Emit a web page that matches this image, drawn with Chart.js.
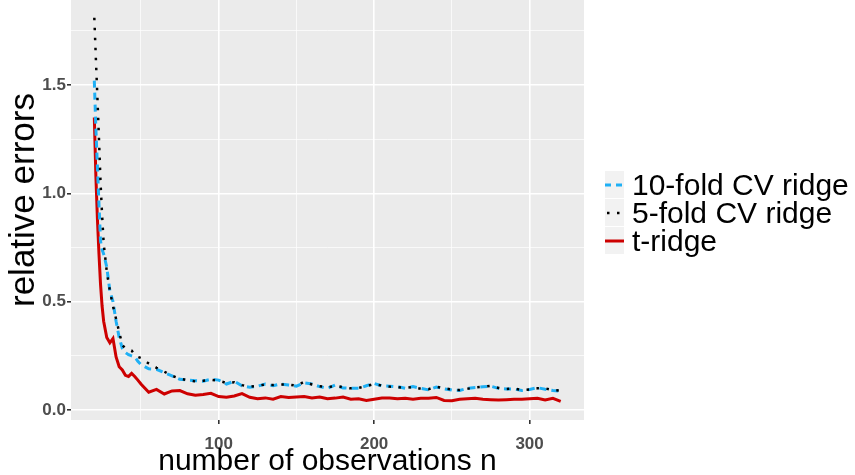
<!DOCTYPE html>
<html lang="en">
<head>
  <meta charset="UTF-8">
  <title>relative errors vs n</title>
  <script src="https://cdn.jsdelivr.net/npm/chart.js"></script>
  <style>
    body {
      margin: 0;
      background: #fff;
      font-family: "Liberation Sans", Arial, sans-serif;
    }
    #wrap {
      position: relative;
      width: 855px;
      height: 475px;
    }
    canvas { position: absolute; left: 0; top: 0; }
    .title {
      position: absolute;
      color: #000;
      white-space: nowrap;
      line-height: 1;
    }
    #xtitle { left: 0; width: 655px; text-align: center; top: 445px; font-size: 30px; }
    #ytitle {
      left: 4px; top: 200px; font-size: 35px;
      transform-origin: 0 0;
      transform: rotate(-90deg) translate(-50%, 0);
    }
    .key {
      position: absolute;
      left: 605px;
      width: 19px;
      height: 27px;
      background: #f2f2f2;
    }
    .lab {
      position: absolute;
      left: 632px;
      font-size: 30px;
      line-height: 1;
      color: #000;
      white-space: nowrap;
    }
  </style>
</head>
<body>
<div id="wrap">
  <canvas id="chart" width="855" height="475"></canvas>
  <div class="title" id="xtitle">number of observations n</div>
  <div class="title" id="ytitle">relative errors</div>

  <div class="key" style="top:171px"><svg width="19" height="27"><line x1="0" y1="14" x2="19" y2="14" stroke="#1fb0f5" stroke-width="3" stroke-dasharray="6,5"/></svg></div>
  <div class="key" style="top:199px"><svg width="19" height="27"><line x1="2" y1="14" x2="19" y2="14" stroke="#000" stroke-width="2.5" stroke-dasharray="2.5,7.5"/></svg></div>
  <div class="key" style="top:227px"><svg width="19" height="27"><line x1="0" y1="14" x2="19" y2="14" stroke="#cd0000" stroke-width="3"/></svg></div>
  <div class="lab" style="top:170px">10-fold CV ridge</div>
  <div class="lab" style="top:198px">5-fold CV ridge</div>
  <div class="lab" style="top:226px">t-ridge</div>
</div>

<script>
  // number of observations
  const nObs = [20, 21, 22, 23, 24, 25, 26, 28, 30, 32, 34, 36, 38, 40, 42, 44, 46, 48, 50,
    55, 60, 65, 70, 75, 80, 85, 90, 95, 100, 105, 110, 115, 120, 125, 130, 135, 140, 145, 150,
    155, 160, 165, 170, 175, 180, 185, 190, 195, 200, 205, 210, 215, 220, 225, 230, 235, 240,
    245, 250, 255, 260, 265, 270, 275, 280, 285, 290, 295, 300, 305, 310, 315, 320];

  const tenFold = [1.52, 1.30, 1.12, 0.95, 0.78, 0.74, 0.72, 0.66, 0.55, 0.50, 0.41, 0.335, 0.285, 0.265, 0.255, 0.25, 0.245, 0.225, 0.21,
    0.19, 0.188, 0.172, 0.158, 0.142, 0.138, 0.135, 0.133, 0.142, 0.138, 0.12, 0.133, 0.112, 0.105, 0.11, 0.12, 0.112, 0.12, 0.115, 0.11,
    0.125, 0.12, 0.108, 0.10, 0.115, 0.102, 0.10, 0.10, 0.112, 0.123, 0.111, 0.11, 0.108, 0.10, 0.108, 0.10, 0.093, 0.106,
    0.098, 0.092, 0.09, 0.10, 0.104, 0.107, 0.11, 0.10, 0.097, 0.097, 0.09, 0.095, 0.103, 0.096, 0.09, 0.087];

  const fiveFold = [1.81, 1.62, 1.44, 1.25, 1.05, 0.90, 0.77, 0.64, 0.55, 0.48, 0.42, 0.36, 0.30, 0.285, 0.28, 0.275, 0.255, 0.245, 0.24,
    0.215, 0.195, 0.177, 0.158, 0.145, 0.138, 0.132, 0.135, 0.14, 0.135, 0.125, 0.128, 0.115, 0.108, 0.112, 0.118, 0.115, 0.118, 0.118, 0.112,
    0.13, 0.118, 0.11, 0.105, 0.112, 0.105, 0.10, 0.102, 0.11, 0.12, 0.113, 0.108, 0.106, 0.102, 0.106, 0.098, 0.096, 0.108,
    0.10, 0.095, 0.092, 0.098, 0.104, 0.107, 0.112, 0.102, 0.097, 0.10, 0.092, 0.095, 0.10, 0.10, 0.092, 0.09];

  const tRidge = [1.35, 1.08, 0.88, 0.72, 0.58, 0.48, 0.41, 0.335, 0.31, 0.33, 0.245, 0.20, 0.185, 0.16, 0.155, 0.169, 0.155, 0.138, 0.12,
    0.082, 0.095, 0.074, 0.088, 0.09, 0.075, 0.068, 0.072, 0.077, 0.062, 0.059, 0.065, 0.076, 0.059, 0.052, 0.056, 0.05, 0.062, 0.058, 0.06,
    0.062, 0.056, 0.06, 0.052, 0.055, 0.06, 0.05, 0.052, 0.044, 0.05, 0.055, 0.056, 0.052, 0.054, 0.05, 0.054, 0.054, 0.058,
    0.044, 0.043, 0.05, 0.052, 0.054, 0.05, 0.048, 0.046, 0.048, 0.05, 0.05, 0.052, 0.054, 0.046, 0.054, 0.04];

  const xTicks = [50, 100, 150, 200, 250, 300];
  const xLabels = [100, 200, 300];
  const yTicks = [0, 0.25, 0.5, 0.75, 1, 1.25, 1.5, 1.75];
  const yLabels = [0, 0.5, 1, 1.5];

  function pts(ys) {
    return nObs.map((n, i) => ({ x: n, y: ys[i] }));
  }

  const panelBg = {
    id: 'panelBg',
    beforeDraw(chart) {
      const { ctx, chartArea: a } = chart;
      ctx.save();
      ctx.fillStyle = '#ebebeb';
      ctx.fillRect(a.left, a.top, a.right - a.left, a.bottom - a.top);
      ctx.restore();
    }
  };

  const tickFont = { family: '"Liberation Sans", Arial, sans-serif', size: 17, weight: 'bold' };

  new Chart(document.getElementById('chart'), {
    type: 'line',
    data: {
      datasets: [
        { label: '5-fold CV ridge', data: pts(fiveFold), borderColor: '#000', borderWidth: 2.5,
          borderDash: [2.5, 7.5], order: 0 },
        { label: '10-fold CV ridge', data: pts(tenFold), borderColor: '#1fb0f5', borderWidth: 3,
          borderDash: [7, 5], order: 1 },
        { label: 't-ridge', data: pts(tRidge), borderColor: '#cd0000', borderWidth: 3, order: 2 }
      ]
    },
    options: {
      responsive: false,
      animation: false,
      events: [],
      elements: { point: { radius: 0 }, line: { tension: 0, fill: false, borderCapStyle: 'butt' } },
      layout: { padding: { left: 0, right: 271, top: 0, bottom: 0 } },
      plugins: { legend: { display: false }, tooltip: { enabled: false } },
      scales: {
        x: {
          type: 'linear', min: 5, max: 335,
          afterBuildTicks: s => { s.ticks = xTicks.map(v => ({ value: v })); },
          afterFit: s => { s.height = 55; s.paddingLeft = 0; s.paddingRight = 0; },
          ticks: {
            font: tickFont, color: '#4d4d4d', padding: 10, maxRotation: 0,
            callback: v => xLabels.includes(v) ? String(v) : ''
          },
          grid: {
            color: '#fff',
            lineWidth: c => xLabels.includes(c.tick.value) ? 1.6 : 0.7,
            tickColor: c => xLabels.includes(c.tick.value) ? '#333' : 'rgba(0,0,0,0)',
            tickLength: 4
          },
          border: { display: false }
        },
        y: {
          type: 'linear', min: -0.046, max: 1.892,
          afterBuildTicks: s => { s.ticks = yTicks.map(v => ({ value: v })); },
          afterFit: s => { s.width = 71; s.paddingTop = 0; s.paddingBottom = 0; },
          ticks: {
            font: tickFont, color: '#4d4d4d', padding: 1,
            callback: v => yLabels.includes(v) ? v.toFixed(1) : ''
          },
          grid: {
            color: '#fff',
            lineWidth: c => yLabels.includes(c.tick.value) ? 1.6 : 0.7,
            tickColor: c => yLabels.includes(c.tick.value) ? '#333' : 'rgba(0,0,0,0)',
            tickLength: 4
          },
          border: { display: false }
        }
      }
    },
    plugins: [panelBg]
  });
</script>
</body>
</html>
